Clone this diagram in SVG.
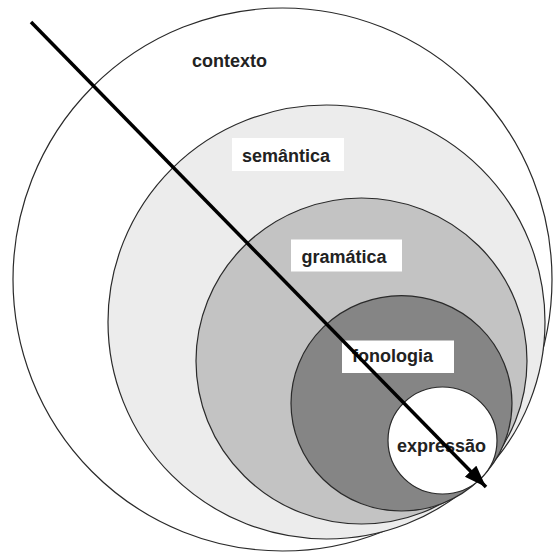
<svg xmlns="http://www.w3.org/2000/svg" width="553" height="554" viewBox="0 0 553 554">
<style>
.ring{stroke:#2a2a2a;stroke-width:1.2}
.lbl{font-family:"Liberation Sans",Arial,sans-serif;font-weight:bold;font-size:18px;fill:#222}
.box{fill:#ffffff}
.arrow{stroke:#000;stroke-width:3.5;fill:none}
</style>
<defs>
<marker id="ah" markerUnits="userSpaceOnUse" markerWidth="24" markerHeight="18" refX="22" refY="8" orient="auto">
<path d="M0,0 L22,8 L0,16 Z" fill="#000"/>
</marker>
</defs>
<rect width="553" height="554" fill="#fff"/>
<g id="contexto">
<ellipse class="ring" cx="282.5" cy="279.5" rx="269.5" ry="271.5" fill="#ffffff"/>
<text class="lbl" x="192" y="67">contexto</text>
</g>
<g id="semantica">
<ellipse class="ring" cx="326.5" cy="322" rx="218.5" ry="217" fill="#ececec"/>
<rect class="box" x="232" y="138" width="112" height="33"/>
<text class="lbl" x="242" y="161.5">semântica</text>
</g>
<g id="gramatica">
<ellipse class="ring" cx="361.5" cy="361" rx="165.5" ry="163" fill="#c3c3c3"/>
<rect class="box" x="291" y="239.5" width="111" height="32"/>
<text class="lbl" x="301.5" y="262.5">gramática</text>
</g>
<g id="fonologia">
<ellipse class="ring" cx="401.5" cy="403.3" rx="110.5" ry="107.7" fill="#858585"/>
<rect class="box" x="342" y="340.5" width="112" height="32.5"/>
<text class="lbl" x="352" y="362">fonologia</text>
</g>
<g id="expressao">
<ellipse class="ring" cx="442.5" cy="440.5" rx="54.5" ry="53.5" fill="#ffffff"/>
<text class="lbl" x="397" y="451.5">expressão</text>
</g>
<g id="connectors">
<line class="arrow" x1="31" y1="22" x2="486" y2="487" marker-end="url(#ah)"/>
</g>
</svg>
